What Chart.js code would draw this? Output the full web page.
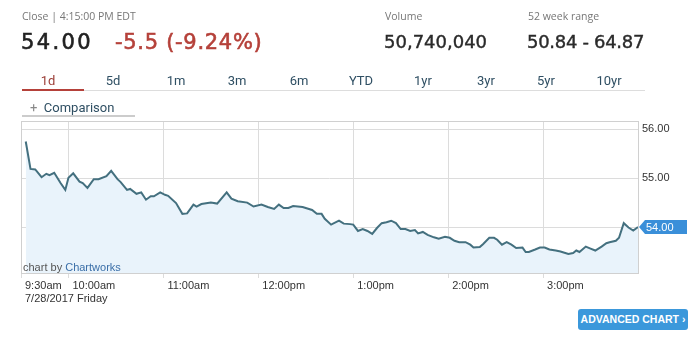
<!DOCTYPE html>
<html>
<head>
<meta charset="utf-8">
<script src="https://cdn.jsdelivr.net/npm/chart.js@4/dist/chart.umd.min.js"></script>
<style>
    body { margin: 0; background: #fff; }
    #wrap { position: relative; width: 700px; height: 348px; overflow: hidden; font-family: Roboto, sans-serif; }
    #wrap canvas { position: absolute; left: 0; top: 0; }
    .t { position: absolute; white-space: nowrap; line-height: 1; }
    .lbl { font: 10.5px "Open Sans", sans-serif; color: #777; top: 9px; }
    .big { font: 21px "DejaVu Sans", sans-serif; color: #222; top: 30px; -webkit-text-stroke: 0.6px currentColor; }
    .mid { font: 18px "DejaVu Sans", sans-serif; color: #2a2a2a; top: 30.5px; -webkit-text-stroke: 0.4px currentColor; }
    .tab { font-size: 13px; color: #2f4f63; top: 74px; transform: translateX(-50%); }
    #tabline { position: absolute; left: 22px; top: 90px; width: 623px; height: 1px; background: #ddd; }
    #tabsel { position: absolute; left: 22px; top: 89px; width: 62px; height: 2px; background: #b5413a; }
    #cmpline { position: absolute; left: 22px; top: 115px; width: 113px; height: 2px; background: #ccc; }
    #credit { position: absolute; left: 23px; top: 261px; font: 11px "Liberation Sans", Arial, sans-serif; color: #555; }
    #credit span { color: #3b6fa8; }
    #btn { position: absolute; left: 578px; top: 309px; width: 110px; height: 21px; background: #3b98db; border-radius: 3px;
           color: #fff; font: bold 10.5px "Liberation Sans", Arial, sans-serif; line-height: 21px; text-align: center; }
</style>
</head>
<body>
<div id="wrap">
    <canvas id="graph" width="700" height="348"></canvas>

    <div class="t lbl" style="left:22px">Close | 4:15:00 PM EDT</div>
    <div class="t big" style="left:21px;letter-spacing:2.4px">54.00</div>
    <div class="t big" style="left:115px;color:#b5413a;letter-spacing:0.7px">-5.5 (-9.24%)</div>
    <div class="t lbl" style="left:385px">Volume</div>
    <div class="t mid" style="left:384px">50,740,040</div>
    <div class="t lbl" style="left:528px">52 week range</div>
    <div class="t mid" style="left:527px;letter-spacing:-0.3px">50.84 - 64.87</div>

    <div class="t tab" style="left:48px;color:#9b3d36">1d</div>
    <div class="t tab" style="left:113px">5d</div>
    <div class="t tab" style="left:176px">1m</div>
    <div class="t tab" style="left:237px">3m</div>
    <div class="t tab" style="left:299px">6m</div>
    <div class="t tab" style="left:361px">YTD</div>
    <div class="t tab" style="left:423px">1yr</div>
    <div class="t tab" style="left:486px">3yr</div>
    <div class="t tab" style="left:546px">5yr</div>
    <div class="t tab" style="left:609px">10yr</div>
    <div id="tabline"></div>
    <div id="tabsel"></div>

    <div class="t" style="left:30px;top:101px;font-size:13px;color:#2f4f63"><span style="color:#888">+</span>&nbsp; Comparison</div>
    <div id="cmpline"></div>

    <div id="credit">chart by <span>Chartworks</span></div>
    <div id="btn">ADVANCED CHART &rsaquo;</div>
</div>

<script>
// minutes after 9:30am, prix
var minutes = [3, 6, 9, 13, 16, 18, 21, 25, 28, 30, 33, 37, 39, 42, 46, 49, 54, 57, 61, 63,
    67, 69, 73, 76, 79, 82, 84, 88, 91, 93, 98, 102, 105, 109, 111, 114, 120, 124, 130, 133,
    137, 143, 147, 152, 156, 160, 163, 166, 169, 172, 178, 181, 184, 187, 190, 192, 196, 201, 204, 208,
    210, 213, 216, 219, 222, 225, 228, 231, 234, 237, 240, 243, 246, 249, 251, 254, 257, 261, 264, 268,
    271, 274, 277, 281, 284, 286, 290, 292, 296, 299, 301, 304, 307, 310, 313, 317, 319, 321, 325, 328,
    331, 334, 338, 341, 343, 346, 349, 351, 353, 357, 360, 363, 367, 370, 372, 376, 378, 381, 384, 387, 390];
var prices = [55.75, 55.19, 55.18, 55.02, 55.09, 55.06, 55.11, 54.90, 54.76, 55.01,
    55.10, 54.93, 54.90, 54.80, 54.98, 54.98, 55.04, 55.15, 54.98, 54.92,
    54.76, 54.78, 54.68, 54.71, 54.56, 54.63, 54.63, 54.71, 54.66, 54.64,
    54.49, 54.27, 54.28, 54.46, 54.42, 54.47, 54.50, 54.48, 54.71, 54.58,
    54.53, 54.50, 54.42, 54.46, 54.41, 54.37, 54.46, 54.39, 54.39, 54.43,
    54.41, 54.38, 54.35, 54.27, 54.27, 54.17, 54.05, 54.13, 54.07, 54.06,
    54.05, 53.92, 53.96, 53.92, 53.86, 53.98, 54.08, 54.10, 54.13, 54.08,
    53.96, 53.96, 53.92, 53.94, 53.87, 53.90, 53.84, 53.79, 53.76, 53.80,
    53.78, 53.72, 53.69, 53.69, 53.64, 53.58, 53.59, 53.65, 53.78, 53.78,
    53.74, 53.64, 53.69, 53.64, 53.57, 53.58, 53.49, 53.49, 53.54, 53.58,
    53.58, 53.54, 53.52, 53.50, 53.48, 53.45, 53.47, 53.52, 53.49, 53.60,
    53.56, 53.52, 53.60, 53.67, 53.69, 53.72, 53.78, 54.08, 53.99, 53.93,
    54.00];

var tickMinutes = [0, 30, 90, 150, 210, 270, 330];
var tickLabels = [['9:30am', '7/28/2017 Friday'], '10:00am', '11:00am', '12:00pm', '1:00pm', '2:00pm', '3:00pm'];
var priceTicks = [54, 55, 56];
var lastPrice = '54.00';

var points = [];
for (var i = 0; i < minutes.length; i++) {
    points.push({ x: minutes[i], y: prices[i] });
}

var axisFont = { family: '"Liberation Sans", Arial, sans-serif', size: 11 };

// cadre + etiquette du dernier cours
var framePlugin = {
    id: 'frame',
    beforeDatasetsDraw: function (chart) {
        var a = chart.chartArea, ctx = chart.ctx;
        ctx.save();
        ctx.strokeStyle = '#d0d0d0';
        ctx.lineWidth = 1;
        ctx.strokeRect(a.left + 0.5, a.top + 0.5, a.right - a.left, a.bottom - a.top);
        ctx.restore();
    },
    afterDraw: function (chart) {
        var ctx = chart.ctx;
        var y = Math.round(chart.scales.y.getPixelForValue(prices[prices.length - 1]));
        ctx.save();
        ctx.fillStyle = '#3a8fd9';
        ctx.beginPath();
        ctx.moveTo(639, y);
        ctx.lineTo(645, y - 7);
        ctx.lineTo(687, y - 7);
        ctx.lineTo(687, y + 7);
        ctx.lineTo(645, y + 7);
        ctx.closePath();
        ctx.fill();
        ctx.fillStyle = '#fff';
        ctx.font = '11px "Liberation Sans", Arial, sans-serif';
        ctx.textBaseline = 'middle';
        ctx.fillText(lastPrice, 646, y + 0.5);
        ctx.restore();
    }
};

var ctx = document.getElementById('graph').getContext('2d');
var chart = new Chart(ctx, {
    type: 'line',
    data: {
        datasets: [{
            data: points,
            borderColor: '#44707f',
            borderWidth: 2,
            backgroundColor: '#e9f3fb',
            fill: 'start',
            pointRadius: 0,
            tension: 0
        }]
    },
    options: {
        responsive: false,
        animation: false,
        layout: { padding: { left: 21, top: 121, right: 0, bottom: 0 } },
        plugins: { legend: { display: false }, tooltip: { enabled: false } },
        scales: {
            x: {
                type: 'linear',
                min: 0,
                max: 390,
                afterBuildTicks: function (scale) {
                    scale.ticks = tickMinutes.map(function (m) { return { value: m }; });
                },
                afterFit: function (scale) { scale.height = 75; },
                grid: { color: '#dcdcdc', tickLength: 5 },
                border: { color: '#d0d0d0' },
                ticks: {
                    autoSkip: false,
                    maxRotation: 0,
                    align: 'start',
                    labelOffset: 4,
                    padding: 1,
                    color: '#333',
                    font: axisFont,
                    callback: function (value) {
                        var idx = tickMinutes.indexOf(value);
                        return idx >= 0 ? tickLabels[idx] : '';
                    }
                }
            },
            y: {
                position: 'right',
                min: 53.06,
                max: 56.17,
                afterBuildTicks: function (scale) {
                    scale.ticks = priceTicks.map(function (v) { return { value: v }; });
                },
                afterFit: function (scale) { scale.width = 62; },
                grid: { color: '#dcdcdc', drawTicks: false },
                border: { color: '#d0d0d0' },
                ticks: {
                    padding: 4,
                    color: '#333',
                    font: axisFont,
                    callback: function (value) {
                        return value === 54 ? '' : value.toFixed(2);
                    }
                }
            }
        }
    },
    plugins: [framePlugin]
});
</script>
</body>
</html>
